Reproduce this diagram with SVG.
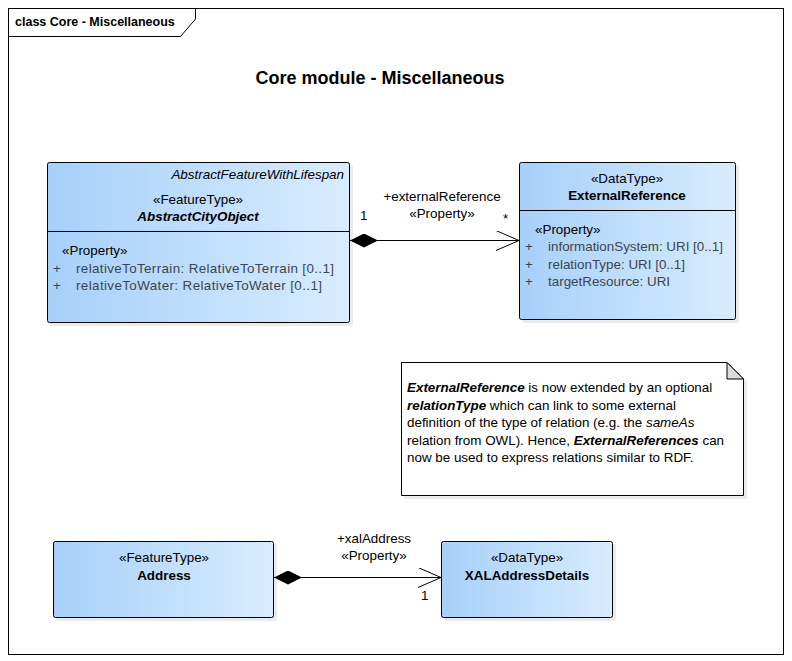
<svg xmlns="http://www.w3.org/2000/svg" width="792" height="661" viewBox="0 0 792 661">
<defs>
<linearGradient id="blue" x1="0" y1="0" x2="1" y2="0">
<stop offset="0" stop-color="#a6d0fa"/>
<stop offset="1" stop-color="#d9ecfd"/>
</linearGradient>
<marker id="diamond" viewBox="0 0 28 14" refX="0" refY="7" markerWidth="28" markerHeight="14" markerUnits="userSpaceOnUse" orient="auto">
<path d="M0,7 L14,0 L28,7 L14,14 Z" fill="#000"/>
</marker>
<marker id="open" viewBox="0 0 24 20" refX="23" refY="10" markerWidth="24" markerHeight="20" markerUnits="userSpaceOnUse" orient="auto">
<path d="M0,0 L23,10 L0,20" fill="none" stroke="#000" stroke-width="1"/>
</marker>
</defs>
<style>
text{font-family:"Liberation Sans",Arial,sans-serif;font-size:13.4px;fill:#000}
.g{fill:#3c4650}
.c{text-anchor:middle}
.b{font-weight:bold}
.i{font-style:italic}
.box{fill:url(#blue);stroke:#000;stroke-width:1}
.shadow{fill:#000;opacity:0.08}
.line{stroke:#000;stroke-width:1;fill:none}
</style>
<rect x="0" y="0" width="792" height="661" fill="#fff"/>
<g id="frame">
<rect x="8.5" y="8.5" width="775" height="646" fill="none" stroke="#000"/>
<path d="M8.5,36.5 H180.5 L195.5,19 V8.5" fill="none" stroke="#000"/>
<text x="15" y="26" class="b" style="font-size:12.5px">class Core - Miscellaneous</text>
</g>
<text x="380" y="84" class="c b" style="font-size:18px">Core module - Miscellaneous</text>

<g id="AbstractCityObject">
<rect x="50" y="165" width="303" height="161" rx="2" class="shadow"/>
<rect x="47.5" y="162.5" width="302" height="160" rx="2" class="box"/>
<line x1="47.5" y1="231.5" x2="349.5" y2="231.5" class="line"/>
<text x="344" y="179" class="i" text-anchor="end">AbstractFeatureWithLifespan</text>
<text x="198" y="204" class="c">«FeatureType»</text>
<text x="198" y="221" class="c b i">AbstractCityObject</text>
<text x="62" y="255">«Property»</text>
<text x="53" y="273" class="g">+</text>
<text x="76" y="273" class="g" textLength="258">relativeToTerrain: RelativeToTerrain [0..1]</text>
<text x="53" y="290" class="g">+</text>
<text x="76" y="290" class="g" textLength="246">relativeToWater: RelativeToWater [0..1]</text>
</g>

<g id="ExternalReference">
<rect x="522" y="165" width="217" height="158" rx="2" class="shadow"/>
<rect x="519.5" y="162.5" width="216" height="157" rx="2" class="box"/>
<line x1="519.5" y1="210.5" x2="735.5" y2="210.5" class="line"/>
<text x="627" y="183" class="c">«DataType»</text>
<text x="627" y="200" class="c b">ExternalReference</text>
<text x="535" y="234">«Property»</text>
<text x="525" y="251" class="g">+</text>
<text x="548" y="251" class="g">informationSystem: URI [0..1]</text>
<text x="525" y="269" class="g">+</text>
<text x="548" y="269" class="g">relationType: URI [0..1]</text>
<text x="525" y="286" class="g">+</text>
<text x="548" y="286" class="g">targetResource: URI</text>
</g>

<g id="Note">
<path d="M404,365 H730 L747,382 V499 H404 Z" class="shadow"/>
<path d="M401.5,362.5 H727 L743.5,379 V495.5 H401.5 Z" fill="#fff" stroke="#000"/>
<path d="M727,362.5 V379 H743.5 Z" fill="#dcdcdc" stroke="#000"/>
<text x="407" y="392"><tspan class="b i">ExternalReference</tspan> is now extended by an optional</text>
<text x="407" y="410"><tspan class="b i">relationType</tspan> which can link to some external</text>
<text x="407" y="427">definition of the type of relation (e.g. the <tspan class="i">sameAs</tspan></text>
<text x="407" y="445">relation from OWL). Hence, <tspan class="b i">ExternalReferences</tspan> can</text>
<text x="407" y="462">now be used to express relations similar to RDF.</text>
</g>

<g id="Address">
<rect x="56" y="544" width="221" height="77" rx="2" class="shadow"/>
<rect x="53.5" y="541.5" width="220" height="76" rx="2" class="box"/>
<text x="164" y="562" class="c">«FeatureType»</text>
<text x="164" y="580" class="c b">Address</text>
</g>

<g id="XALAddressDetails">
<rect x="444" y="544" width="172" height="77" rx="2" class="shadow"/>
<rect x="441.5" y="541.5" width="171" height="76" rx="2" class="box"/>
<text x="527" y="562" class="c">«DataType»</text>
<text x="527" y="580" class="c b">XALAddressDetails</text>
</g>

<g id="connectors">
<line x1="350" y1="240.5" x2="519" y2="240.5" class="line" marker-start="url(#diamond)" marker-end="url(#open)"/>
<text x="442" y="201" class="c">+externalReference</text>
<text x="442" y="218" class="c">«Property»</text>
<text x="360" y="220">1</text>
<text x="503" y="223">*</text>
<line x1="274" y1="577.5" x2="441" y2="577.5" class="line" marker-start="url(#diamond)" marker-end="url(#open)"/>
<text x="374" y="543" class="c">+xalAddress</text>
<text x="374" y="560" class="c">«Property»</text>
<text x="421" y="600">1</text>
</g>
</svg>
